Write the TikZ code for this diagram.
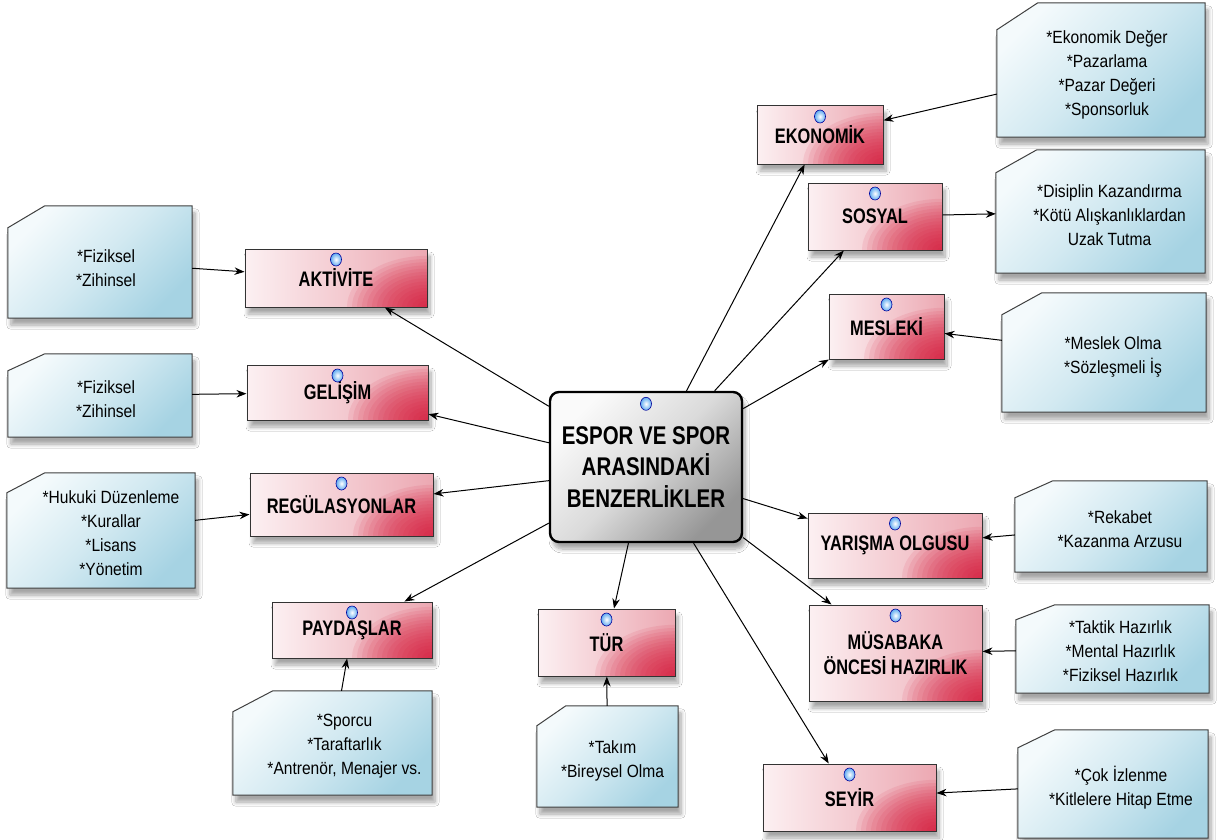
\documentclass[tikz,border=0pt]{standalone}
\usepackage{fontspec}
\setmainfont{Liberation Sans}
\newfontfamily\hubfont[FakeStretch=0.8]{Liberation Sans}
\newfontfamily\topicfont[FakeStretch=0.78]{Liberation Sans}
\newfontfamily\notefont[FakeStretch=0.88]{Liberation Sans}
\usetikzlibrary{arrows.meta,backgrounds,shadows.blur}

\definecolor{hublight}{RGB}{250,250,250}
\definecolor{hubmid}{RGB}{218,218,218}
\definecolor{hubdark}{RGB}{150,150,150}
\definecolor{topiclight}{RGB}{252,240,242}
\definecolor{topicmid}{RGB}{236,168,178}
\definecolor{topicdark}{RGB}{214,18,52}
\definecolor{notelight}{RGB}{244,250,252}
\definecolor{notemid}{RGB}{210,233,241}
\definecolor{notedark}{RGB}{166,211,227}
\definecolor{knobblue}{RGB}{95,170,240}

% the gray box runs from the bottom (dark corner) to the top (light corner)
\pgfdeclareverticalshading{hubfill}{100bp}{color(0bp)=(hubdark); color(25bp)=(hubdark);
  color(50bp)=(hubmid); color(75bp)=(hublight); color(100bp)=(hublight)}

\tikzset{
  softshadow/.style={blur shadow={shadow xshift=3pt, shadow yshift=-7pt,
    shadow opacity=35, shadow blur steps=8, shadow blur radius=4pt}},
  hub/.style={draw=black, line width=2.4pt, rounded corners=9pt,
    shading=hubfill, shading angle=45,
    minimum width=192pt, minimum height=150pt, inner sep=0pt, align=center,
    font=\hubfont\bfseries\fontsize{25.6}{31.5}\selectfont, softshadow},
  % pink to the right, with a red glow built up in the lower right corner
  topic/.style={draw=black!80, line width=1pt, left color=topiclight, right color=topicmid,
    path picture={\foreach \k in {1,...,16}
      \fill[topicdark, fill opacity=0.09] (path picture bounding box.south east)
        ellipse [x radius={5pt*\k}, y radius={3.2pt*\k}];},
    inner sep=0pt, align=center,
    font=\topicfont\bfseries\fontsize{21}{25}\selectfont, softshadow},
  notes/.style={inner sep=0pt},
  notetext/.style={inner sep=0pt, align=center,
    font=\notefont\fontsize{17.7}{24}\selectfont},
  notesframe/.style={draw=black!75, line width=1pt,
    top color=notelight, bottom color=notedark, middle color=notemid, shading angle=45,
    softshadow},
  knob/.style={inner color=white, outer color=knobblue, draw=blue!60!black, line width=0.6pt},
  link/.style={->, line width=1pt},
}

\begin{document}
\begin{tikzpicture}[x=1pt, y=-1pt, >={Stealth[length=10pt,width=7.5pt]}]
\useasboundingbox (0,0) rectangle (1218,840);

\node[hub] (hub) at (646,467) {ESPOR VE SPOR\\ARASINDAKİ\\BENZERLİKLER};

% topics, right side
\node[topic, minimum width=126pt, minimum height=58pt] (eko) at (820,135) {EKONOMİK};
\node[topic, minimum width=134pt, minimum height=67pt] (sos) at (875,216.5) {SOSYAL};
\node[topic, minimum width=115pt, minimum height=65pt] (mes) at (886.5,326.5) {MESLEKİ};
\node[topic, minimum width=174pt, minimum height=65pt] (yar) at (895,545.5) {YARIŞMA OLGUSU};
\node[topic, minimum width=173pt, minimum height=96pt] (mus) at (895.5,653) {MÜSABAKA\\ÖNCESİ HAZIRLIK};
\node[topic, minimum width=173pt, minimum height=67pt] (sey) at (849.5,797.5) {SEYİR};
% topics, left side and bottom
\node[topic, minimum width=182pt, minimum height=58pt] (akt) at (336,278) {AKTİVİTE};
\node[topic, minimum width=181pt, minimum height=55pt] (gel) at (337.5,392.5) {GELİŞİM};
\node[topic, minimum width=183pt, minimum height=63pt] (reg) at (341.5,504.5) {REGÜLASYONLAR};
\node[topic, minimum width=160pt, minimum height=56pt] (pay) at (352,630) {PAYDAŞLAR};
\node[topic, minimum width=137pt, minimum height=67pt] (tur) at (606.5,642.5) {TÜR};

% note lists: the box, then its text a little right of and below the middle
\node[notes, minimum width=208pt, minimum height=134pt] (ekoList) at (1101,70) {};
\node[notes, minimum width=209pt, minimum height=123pt] (sosList) at (1100.5,211.5) {};
\node[notes, minimum width=204pt, minimum height=119pt] (mesList) at (1104,352.5) {};
\node[notes, minimum width=192pt, minimum height=91pt] (yarList) at (1111,526.5) {};
\node[notes, minimum width=193pt, minimum height=88pt] (musList) at (1112.5,649) {};
\node[notes, minimum width=190pt, minimum height=108pt] (seyList) at (1113,784) {};
\node[notes, minimum width=184pt, minimum height=112pt] (aktList) at (100,262) {};
\node[notes, minimum width=184pt, minimum height=83pt] (gelList) at (100,395.5) {};
\node[notes, minimum width=188pt, minimum height=115pt] (regList) at (101,530.5) {};
\node[notes, minimum width=199pt, minimum height=104pt] (payList) at (332.5,743) {};
\node[notes, minimum width=141pt, minimum height=101pt] (turList) at (607.5,756.5) {};

\node[notetext] (ekoText) at ([shift={(6pt,-5pt)}]ekoList.center) {*Ekonomik Değer\\*Pazarlama\\*Pazar Değeri\\*Sponsorluk};
\node[notetext] (sosText) at ([shift={(9pt,-4pt)}]sosList.center) {*Disiplin Kazandırma\\*Kötü Alışkanlıklardan\\Uzak Tutma};
\node[notetext] (mesText) at ([shift={(9pt,-4pt)}]mesList.center) {*Meslek Olma\\*Sözleşmeli İş};
\node[notetext] (yarText) at ([shift={(9pt,-3pt)}]yarList.center) {*Rekabet\\*Kazanma Arzusu};
\node[notetext] (musText) at ([shift={(8pt,-2pt)}]musList.center) {*Taktik Hazırlık\\*Mental Hazırlık\\*Fiziksel Hazırlık};
\node[notetext] (seyText) at ([shift={(8pt,-4pt)}]seyList.center) {*Çok İzlenme\\*Kitlelere Hitap Etme};
\node[notetext] (aktText) at ([shift={(6pt,-6pt)}]aktList.center) {*Fiziksel\\*Zihinsel};
\node[notetext] (gelText) at ([shift={(6pt,-4pt)}]gelList.center) {*Fiziksel\\*Zihinsel};
\node[notetext] (regText) at ([shift={(10pt,-3pt)}]regList.center) {*Hukuki Düzenleme\\*Kurallar\\*Lisans\\*Yönetim};
\node[notetext] (payText) at ([shift={(12pt,-3pt)}]payList.center) {*Sporcu\\*Taraftarlık\\*Antrenör, Menajer vs.};
\node[notetext] (turText) at ([shift={(5pt,-4pt)}]turList.center) {*Takım\\*Bireysel Olma};

% list frames with the clipped top-left corner
\begin{scope}[on background layer]
\fill[white] (0,0) rectangle (1218,840);
\foreach \n/\cw/\ch in {ekoList/41pt/27pt, sosList/41pt/23pt, mesList/40pt/22pt,
    yarList/38pt/17pt, musList/39pt/15pt, seyList/37pt/18pt, aktList/37pt/22pt,
    gelList/37pt/17pt, regList/38pt/20pt, payList/40pt/21pt, turList/29pt/20pt}
  \draw[notesframe] ([xshift=\cw]\n.north west) -- (\n.north east) -- (\n.south east)
    -- (\n.south west) -- ([yshift=-\ch]\n.north west) -- cycle;
\end{scope}

% spokes from the hub
\foreach \t/\a in {eko/62, sos/48, mes/31, yar/342, mus/324, sey/302, tur/257,
    pay/210, reg/188, gel/166, akt/148}
  \draw[link] (hub.\a) -- (\t);

% lists to topics
\draw[link] (ekoList) -- (eko);
\draw[link] (sos) -- (sosList);
\draw[link] (mesList) -- (mes);
\draw[link] (yarList) -- (yar);
\draw[link] (musList) -- (mus);
\draw[link] (seyList) -- (sey);
\draw[link] (aktList) -- (akt);
\draw[link] (gelList) -- (gel);
\draw[link] (regList) -- (reg);
\draw[link] (payList) -- (pay);
\draw[link] (turList) -- (tur);

% little blue knobs on top
\foreach \t in {eko,sos,mes,yar,mus,sey,akt,gel,reg,pay,tur}
  \draw[knob] ([yshift=-11pt]\t.north) ellipse [x radius=5.5pt, y radius=6.5pt];
\draw[knob] ([yshift=-13pt]hub.north) ellipse [x radius=5.5pt, y radius=6.5pt];
\end{tikzpicture}
\end{document}
